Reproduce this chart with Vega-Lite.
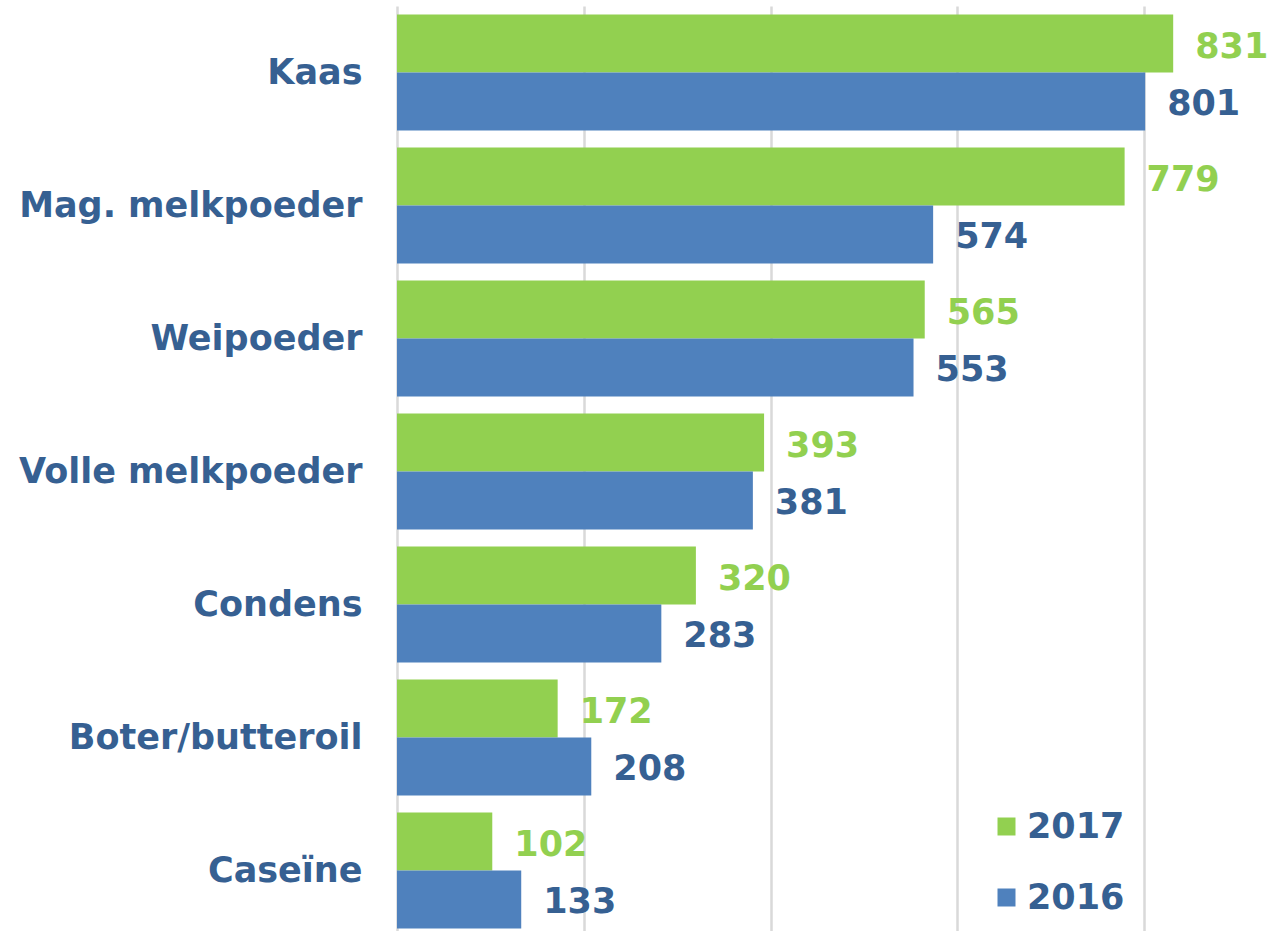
{
  "$schema": "https://vega.github.io/schema/vega-lite/v6.json",
  "autosize": "none",
  "padding": {"left": 397, "top": 6, "right": 0, "bottom": 0},
  "width": 878,
  "height": 931,
  "background": "white",
  "config": {"view": {"stroke": null}},
  "data": {
    "values": [
      {"product": "Kaas", "year": "2017", "value": 831},
      {"product": "Kaas", "year": "2016", "value": 801},
      {"product": "Mag. melkpoeder", "year": "2017", "value": 779},
      {"product": "Mag. melkpoeder", "year": "2016", "value": 574},
      {"product": "Weipoeder", "year": "2017", "value": 565},
      {"product": "Weipoeder", "year": "2016", "value": 553},
      {"product": "Volle melkpoeder", "year": "2017", "value": 393},
      {"product": "Volle melkpoeder", "year": "2016", "value": 381},
      {"product": "Condens", "year": "2017", "value": 320},
      {"product": "Condens", "year": "2016", "value": 283},
      {"product": "Boter/butteroil", "year": "2017", "value": 172},
      {"product": "Boter/butteroil", "year": "2016", "value": 208},
      {"product": "Caseïne", "year": "2017", "value": 102},
      {"product": "Caseïne", "year": "2016", "value": 133}
    ]
  },
  "encoding": {
    "y": {
      "field": "product", "type": "nominal", "sort": null,
      "scale": {"paddingInner": 0.128, "paddingOuter": 0.064},
      "axis": {
        "title": null, "ticks": false, "domain": false,
        "labelFont": "DejaVu Sans", "labelFontWeight": "bold", "labelFontSize": 35,
        "labelColor": "#366092", "labelPadding": 35, "labelLimit": 500
      }
    },
    "yOffset": {"field": "year", "type": "nominal", "sort": ["2017", "2016"]},
    "x": {
      "field": "value", "type": "quantitative",
      "scale": {"domain": [0, 940], "nice": false},
      "axis": {
        "title": null, "labels": false, "ticks": false, "domain": false,
        "values": [0, 200, 400, 600, 800],
        "grid": true, "gridColor": "#D9D9D9", "gridWidth": 2.5
      }
    }
  },
  "layer": [
    {
      "mark": {"type": "bar"},
      "encoding": {
        "color": {
          "field": "year", "type": "nominal",
          "scale": {"domain": ["2017", "2016"], "range": ["#92D050", "#4F81BD"]},
          "legend": {
            "title": null, "orient": "none", "legendX": 592, "legendY": 803,
            "padding": 0, "symbolType": "square", "symbolSize": 324,
            "symbolStrokeWidth": 0,
            "labelFont": "DejaVu Sans", "labelFontWeight": "bold", "labelFontSize": 35,
            "labelColor": "#366092", "labelOffset": 3, "rowPadding": 35
          }
        }
      }
    },
    {
      "mark": {"type": "text", "align": "left", "baseline": "middle", "dx": 22, "dy": 3,
               "font": "DejaVu Sans", "fontWeight": "bold", "fontSize": 35},
      "encoding": {
        "text": {"field": "value", "type": "quantitative"},
        "color": {"condition": {"test": "datum.year == '2017'", "value": "#92D050"}, "value": "#366092"}
      }
    }
  ]
}
